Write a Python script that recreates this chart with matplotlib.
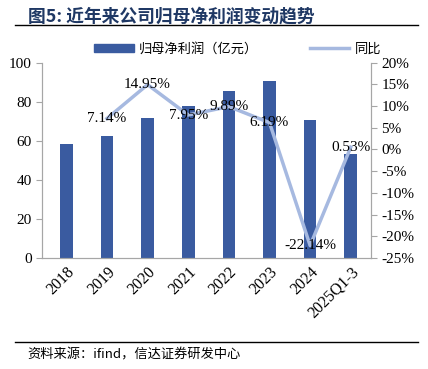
import matplotlib
matplotlib.use("Agg")
import matplotlib.pyplot as plt
from matplotlib.lines import Line2D
from matplotlib.patches import Patch
import numpy as np

plt.rcParams['font.family'] = ['Liberation Serif', 'Noto Sans CJK SC', 'DejaVu Sans']

years = ['2018', '2019', '2020', '2021', '2022', '2023', '2024', '2025Q1-3']
profit = [58.4, 62.6, 71.8, 77.7, 85.4, 90.6, 70.5, 53.1]
yoy = [None, 7.14, 14.95, 7.95, 9.89, 6.19, -22.14, 0.53]

bar_color = '#3A5BA0'
line_color = '#A6B9E0'
axis_color = '#A6A6A6'
cjk = ['Noto Sans CJK SC', 'DejaVu Sans']

fig = plt.figure(figsize=(4.28, 3.69), dpi=100)
ax = fig.add_axes([0.098, 0.301, 0.769, 0.529])
ax2 = ax.twinx()

x = np.arange(len(years))
ax.bar(x, profit, width=0.31, color=bar_color, zorder=2)

lx = x[1:]
ly = yoy[1:]
ax2.plot(lx, ly, color=line_color, lw=2.5, zorder=3)
for xi, yi in zip(lx, ly):
    ax2.text(xi, yi, f'{yi:.2f}%', ha='center', va='center', fontsize=11, zorder=4)

ax.set_xlim(-0.6, 7.5)
ax.set_ylim(0, 100)
ax.set_yticks(range(0, 101, 20))
ax2.set_ylim(-25, 20)
ax2.set_yticks(range(-25, 21, 5))
ax2.set_yticklabels([f'{v}%' for v in range(-25, 21, 5)])

ax.set_xticks(x)
ax.set_xticklabels(years, rotation=45, ha='right', rotation_mode='anchor')

for a in (ax, ax2):
    for s in a.spines.values():
        s.set_color(axis_color)
    a.spines['top'].set_visible(False)
    a.tick_params(labelsize=11, color=axis_color, length=4)
ax.tick_params(axis='x', length=0, pad=4, labelsize=11.5)
ax.set_zorder(ax2.get_zorder() - 1)
ax.patch.set_visible(True)
ax2.patch.set_visible(False)

handles = [Patch(color=bar_color), Line2D([], [], color=line_color, lw=2.5)]
fig.legend(handles, ['归母净利润（亿元）', '同比'], loc='center', bbox_to_anchor=(0.555, 0.867),
           ncol=2, frameon=False, prop={'family': cjk, 'size': 9.5},
           handlelength=3.0, handleheight=0.6, columnspacing=3.9, handletextpad=0.4)

# title and source
fig.text(0.065, 0.955, '图5: 近年来公司归母净利润变动趋势', fontsize=12.8, fontweight='bold',
         color='#1F3864', family=cjk, va='center')
fig.add_artist(Line2D([0.035, 0.977], [0.932, 0.932], color='black', lw=1))
fig.add_artist(Line2D([0.035, 0.977], [0.073, 0.073], color='black', lw=1))
fig.text(0.065, 0.038, '资料来源：ifind，信达证券研发中心', fontsize=9.5, family=cjk,
         va='center', style='italic')

fig.savefig('out.png', dpi=100)
